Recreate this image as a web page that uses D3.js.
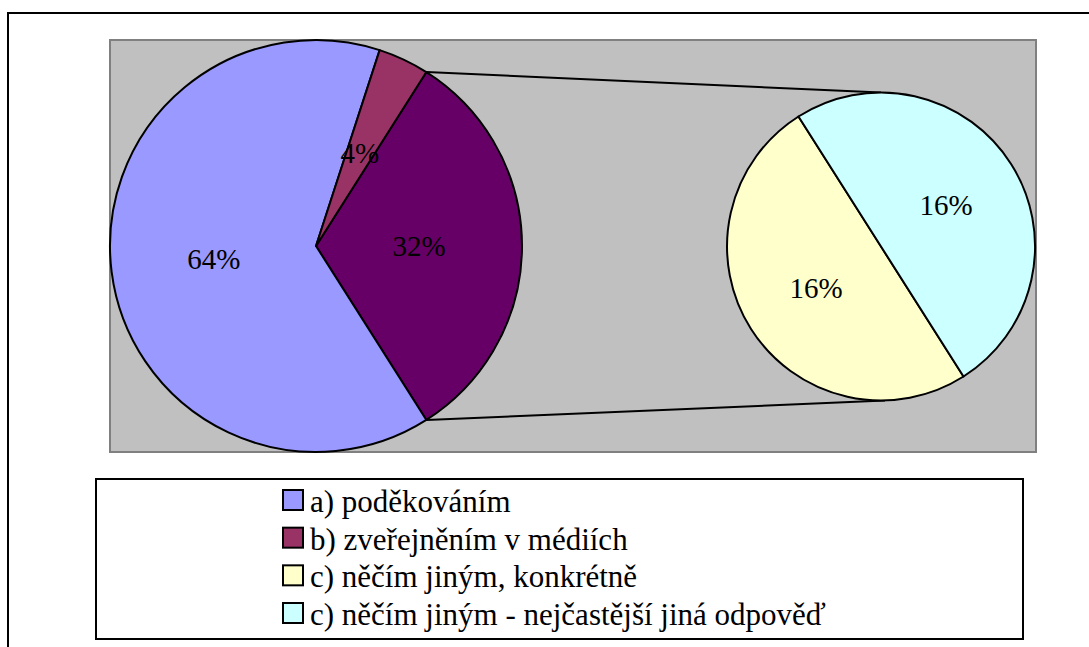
<!DOCTYPE html>
<html>
<head>
<meta charset="utf-8">
<script src="https://cdn.jsdelivr.net/npm/d3@7"></script>
<style>
  body { margin: 0; background: #fff; }
</style>
</head>
<body>
<div class="chart"></div>
<script>
var width = 1089,
    height = 647;

// data
var categories = ["a) poděkováním", "b) zveřejněním v médiích", "c) něčím jiným, konkrétně", "c) něčím jiným - nejčastější jiná odpověď"];
var values = [64, 4, 16, 16];
var colors = ["#9999FF", "#993366", "#FFFFCC", "#CCFFFF"];
var otherColor = "#660066";
var secondIdx = [2, 3]; // slices moved to the second pie

var serif = "Liberation Serif, Tinos, Times New Roman, DejaVu Serif, Noto Serif, serif";

var svg = d3.select(".chart").append("svg")
    .attr("width", width)
    .attr("height", height)
    .attr("font-family", serif);

// outer frame (right and bottom run off the page)
svg.append("rect")
    .attr("x", 8).attr("y", 13)
    .attr("width", 1200).attr("height", 800)
    .attr("fill", "white")
    .attr("stroke", "black")
    .attr("stroke-width", 2);

// plot area
svg.append("rect")
    .attr("x", 110).attr("y", 40)
    .attr("width", 926).attr("height", 412)
    .attr("fill", "#C0C0C0")
    .attr("stroke", "#808080")
    .attr("stroke-width", 2);

var otherTotal = d3.sum(secondIdx, function(i) { return values[i]; });
var total = d3.sum(values);

// main pie: other, a, b  -- other slice centred on the right
var mainData = [
  { value: otherTotal, color: otherColor },
  { value: values[0], color: colors[0] },
  { value: values[1], color: colors[1] }
];
var otherAngle = 2 * Math.PI * otherTotal / total;
var start1 = Math.PI / 2 - otherAngle / 2;

var c1 = [316, 246], r1 = 206;
var c2 = [881, 246.5], r2 = 154;

var pie1 = d3.pie().sort(null).value(function(d) { return d.value; })
    .startAngle(start1).endAngle(start1 + 2 * Math.PI);
var arcs1 = pie1(mainData);

var arc1 = d3.arc().innerRadius(0).outerRadius(r1);
var lab1 = d3.arc().innerRadius(r1 * 0.5).outerRadius(r1 * 0.5);

// second pie starts where the other slice ends
var secData = secondIdx.map(function(i) { return { value: values[i], color: colors[i] }; });
var start2 = arcs1[0].endAngle;
var pie2 = d3.pie().sort(null).value(function(d) { return d.value; })
    .startAngle(start2).endAngle(start2 + 2 * Math.PI);
var arcs2 = pie2(secData);
var arc2 = d3.arc().innerRadius(0).outerRadius(r2);
var lab2 = d3.arc().innerRadius(r2 * 0.5).outerRadius(r2 * 0.5);

// connector lines
function pt(c, r, a) { return [c[0] + r * Math.sin(a), c[1] - r * Math.cos(a)]; }
var p1 = pt(c1, r1, arcs1[0].startAngle),
    p2 = pt(c1, r1, arcs1[0].endAngle);
svg.append("line")
    .attr("x1", p1[0]).attr("y1", p1[1])
    .attr("x2", c2[0]).attr("y2", c2[1] - r2)
    .attr("stroke", "black").attr("stroke-width", 2);
svg.append("line")
    .attr("x1", p2[0]).attr("y1", p2[1])
    .attr("x2", c2[0] + 4).attr("y2", c2[1] + r2)
    .attr("stroke", "black").attr("stroke-width", 2);

var g1 = svg.append("g").attr("transform", "translate(" + c1 + ")");
g1.selectAll("path")
    .data(arcs1)
    .enter()
    .append("path")
    .attr("d", arc1)
    .attr("fill", function(d) { return d.data.color; })
    .attr("stroke", "black")
    .attr("stroke-width", 2)
    .attr("stroke-linejoin", "round");
g1.selectAll("text")
    .data(arcs1)
    .enter()
    .append("text")
    .attr("transform", function(d) { return "translate(" + lab1.centroid(d) + ")"; })
    .attr("text-anchor", "middle")
    .attr("dy", "0.35em")
    .attr("font-size", 29)
    .attr("fill", "black")
    .text(function(d) { return d.data.value + "%"; });

var g2 = svg.append("g").attr("transform", "translate(" + c2 + ")");
g2.selectAll("path")
    .data(arcs2)
    .enter()
    .append("path")
    .attr("d", arc2)
    .attr("fill", function(d) { return d.data.color; })
    .attr("stroke", "black")
    .attr("stroke-width", 2)
    .attr("stroke-linejoin", "round");
g2.selectAll("text")
    .data(arcs2)
    .enter()
    .append("text")
    .attr("transform", function(d) { return "translate(" + lab2.centroid(d) + ")"; })
    .attr("text-anchor", "middle")
    .attr("dy", "0.35em")
    .attr("font-size", 29)
    .attr("fill", "black")
    .text(function(d) { return d.data.value + "%"; });

// legend
svg.append("rect")
    .attr("x", 96).attr("y", 479)
    .attr("width", 927).attr("height", 160)
    .attr("fill", "white")
    .attr("stroke", "black")
    .attr("stroke-width", 2);

var ly = d3.scalePoint().domain(categories).range([500, 613]);

var items = svg.selectAll(".leg")
    .data(categories)
    .enter()
    .append("g")
    .attr("class", "leg")
    .attr("transform", function(d) { return "translate(282," + ly(d) + ")"; });
items.append("rect")
    .attr("x", 1).attr("y", -10)
    .attr("width", 20).attr("height", 20)
    .attr("fill", function(d, i) { return colors[i]; })
    .attr("stroke", "black")
    .attr("stroke-width", 2);
items.append("text")
    .attr("x", 28)
    .attr("y", 12)
    .attr("font-size", 31)
    .attr("fill", "black")
    .text(function(d) { return d; });
</script>
</body>
</html>
